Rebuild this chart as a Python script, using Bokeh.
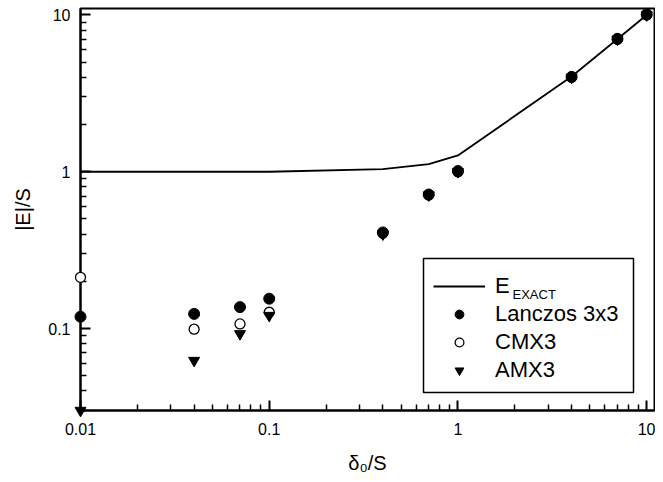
from bokeh.plotting import figure
from bokeh.models import (FixedTicker, CustomJSTickFormatter, Label, BoxAnnotation,
                          Legend, LegendItem, Range1d)
from bokeh.embed import file_html
from bokeh.resources import INLINE

# ---------------- data ----------------
delta = [0.01, 0.04, 0.07, 0.1, 0.4, 0.7, 1.0, 4.0, 7.0, 10.0]
e_exact = [1.0, 1.0, 1.0, 1.0, 1.04, 1.12, 1.27, 4.05, 7.03, 10.0]
lanczos = [0.119, 0.124, 0.137, 0.155, 0.41, 0.716, 1.01, 4.03, 7.05, 10.1]
cmx3 = [0.212, 0.099, 0.107, 0.127, 0.405, 0.71, 1.0, 4.0, 7.0, 10.0]
amx3 = [0.030, 0.0625, 0.0925, 0.121, 0.40, 0.71, 1.0, 4.0, 7.0, 10.0]

x_major_ticks = [0.01, 0.1, 1, 10]
x_tick_labels = ["0.01", "0.1", "1", "10"]
y_major_ticks = [0.1, 1, 10]
y_tick_labels = ["0.1", "1", "10"]
x_minor_ticks = [m * d for d in [0.01, 0.1, 1] for m in range(2, 10)]
y_minor_ticks = [m * d for d in [0.01, 0.1, 1] for m in range(2, 10) if m * d >= 0.0299]

FONT = "Liberation Sans"

p = figure(width=655, height=482, x_axis_type="log", y_axis_type="log",
           x_range=Range1d(0.01, 11.0), y_range=Range1d(0.03, 11.0),
           output_backend="svg", toolbar_location=None,
           min_border_left=80, min_border_right=1, min_border_top=8, min_border_bottom=72)
p.grid.visible = False
p.outline_line_color = "black"
p.outline_line_width = 2
p.outline_line_alpha = 1.0
p.background_fill_color = "white"
p.border_fill_color = "white"

def fmt(tick_vals, tick_labels):
    return CustomJSTickFormatter(args=dict(tv=tick_vals, tl=tick_labels), code="""
        for (let i = 0; i < tv.length; i++) {
            if (Math.abs(tv[i] - tick) <= 1e-9 * Math.abs(tv[i])) return tl[i];
        }
        return '';
    """)

for ax in (p.xaxis[0], p.yaxis[0]):
    ax.axis_line_width = 2
    ax.axis_line_color = "black"
    ax.major_tick_in = 10
    ax.major_tick_out = 0
    ax.minor_tick_in = 6
    ax.minor_tick_out = 0
    ax.major_tick_line_width = 2
    ax.minor_tick_line_width = 1.5
    ax.major_tick_line_color = "black"
    ax.minor_tick_line_color = "black"
    ax.major_label_text_font = FONT
    ax.major_label_text_font_size = "16px"
    ax.major_label_text_color = "black"
    ax.axis_label_text_font = FONT
    ax.axis_label_text_font_size = "20px"
    ax.axis_label_text_font_style = "normal"
    ax.axis_label_text_color = "black"

p.xaxis[0].ticker = FixedTicker(ticks=x_major_ticks, minor_ticks=x_minor_ticks)
p.xaxis[0].formatter = fmt(x_major_ticks, x_tick_labels)
p.xaxis[0].major_label_standoff = 12
p.xaxis[0].axis_label = "δ₀/S"
p.xaxis[0].axis_label_standoff = 14

p.yaxis[0].ticker = FixedTicker(ticks=y_major_ticks, minor_ticks=y_minor_ticks)
p.yaxis[0].formatter = fmt(y_major_ticks, y_tick_labels)
p.yaxis[0].major_label_standoff = 10
p.yaxis[0].axis_label = "|E|/S"
p.yaxis[0].axis_label_standoff = 11

# ---------------- glyphs ----------------
r_line = p.line(delta, e_exact, line_color="black", line_width=1.8)
r_cmx = p.scatter(delta, cmx3, marker="circle", size=10, fill_color="white",
                  line_color="black", line_width=1.3, level="overlay")
r_amx = p.scatter(delta, amx3, marker="inverted_triangle", size=11,
                  fill_color="black", line_color="black", level="overlay")
r_lan = p.scatter(delta, lanczos, marker="circle", size=11,
                  fill_color="black", line_color="black", level="overlay")

# ---------------- legend ----------------
box = BoxAnnotation(left=343, right=553, top=152, bottom=18,
                    left_units="screen", right_units="screen",
                    top_units="screen", bottom_units="screen",
                    fill_color="white", fill_alpha=1.0,
                    line_color="black", line_width=1.5, line_alpha=1.0)
p.add_layout(box)

legend = Legend(items=[
    LegendItem(label="E", renderers=[r_line]),
    LegendItem(label="Lanczos 3x3", renderers=[r_lan]),
    LegendItem(label="CMX3", renderers=[r_cmx]),
    LegendItem(label="AMX3", renderers=[r_amx]),
], location=(353, 27), glyph_width=52, glyph_height=22, label_height=22,
   spacing=2, padding=0, margin=0, label_standoff=10,
   border_line_alpha=0, background_fill_alpha=0,
   label_text_font=FONT, label_text_font_size="22px", label_text_color="black")
p.add_layout(legend)

p.add_layout(Label(x=432, y=116, x_units="screen", y_units="screen", text="EXACT",
                   text_font=FONT, text_font_size="13px", text_color="black",
                   text_baseline="alphabetic"))

open("out.html", "w").write(file_html(p, INLINE))
